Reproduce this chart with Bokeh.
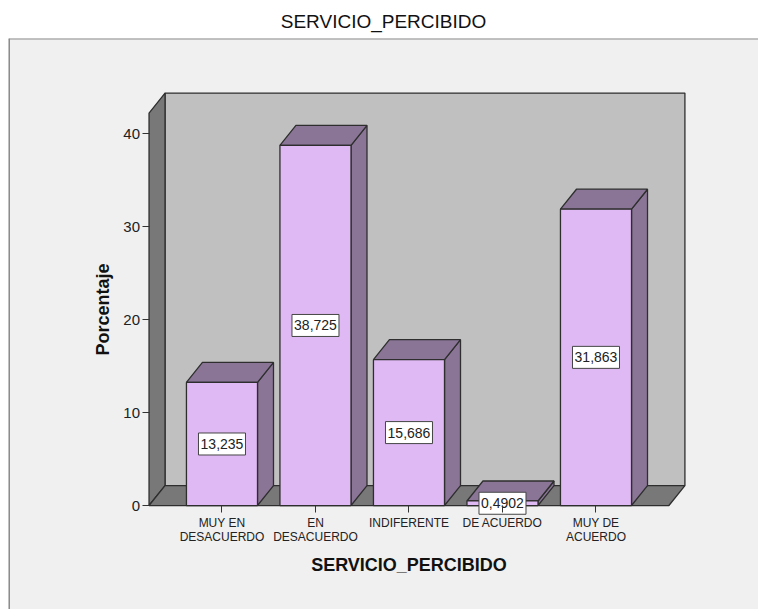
from bokeh.plotting import figure
from bokeh.models import (LinearAxis, FixedTicker, Range1d,
                          ColumnDataSource, Span)
from bokeh.core.properties import value
from bokeh.embed import file_html
from bokeh.resources import INLINE

# --- data -------------------------------------------------------------
categories = ["MUY EN\nDESACUERDO", "EN\nDESACUERDO", "INDIFERENTE",
              "DE ACUERDO", "MUY DE\nACUERDO"]
porcentaje = [13.235, 38.725, 15.686, 0.4902, 31.863]
y_ticks = [0, 10, 20, 30, 40]

# --- 3D box geometry (data units) -------------------------------------
X_LEFT, X_RIGHT = -0.78, 4.78      # front edge of floor
Y_TOP = 42.2                       # top of the side wall (front)
DX, DY = 0.171, 2.15               # depth offset
BAR_W = 0.76

FONT = "Liberation Sans"
FRONT = "#DFB9F3"
SHADE = "#8A7597"
WALL_BACK = "#C0C0C0"
WALL_SIDE = "#787878"
EDGE = "#2E2E2E"

p = figure(width=758, height=609, output_backend="svg", toolbar_location=None,
           x_range=Range1d(-2.283, 5.738), y_range=Range1d(-11.18, 50.22),
           x_axis_location=None, y_axis_location=None,
           min_border_left=8, min_border_right=0, min_border_top=38,
           min_border_bottom=0,
           background_fill_color="#F0F0F0", border_fill_color="white",
           outline_line_color=None)
p.grid.visible = False

p.title.text = "SERVICIO_PERCIBIDO"
p.title.align = "center"
p.title.text_font = FONT
p.title.text_font_size = "19px"
p.title.text_font_style = "normal"
p.title.text_color = "#111111"
p.title.offset = 8
p.title.standoff = 14

# frame edges of the chart box
p.add_layout(Span(location=p.y_range.end, dimension="width",
                  line_color="#8C8C8C", line_width=2))
p.add_layout(Span(location=p.x_range.start, dimension="height",
                  line_color="#8C8C8C", line_width=3))

# back wall, side wall and floor
p.quad(left=X_LEFT + DX, right=X_RIGHT + DX, bottom=DY, top=Y_TOP + DY,
       fill_color=WALL_BACK, line_color=EDGE, line_width=1.3)
p.patch([X_LEFT, X_LEFT, X_LEFT + DX, X_LEFT + DX],
        [0, Y_TOP, Y_TOP + DY, DY],
        fill_color=WALL_SIDE, line_color=EDGE, line_width=1.3)
p.patch([X_LEFT, X_RIGHT, X_RIGHT + DX, X_LEFT + DX],
        [0, 0, DY, DY],
        fill_color=WALL_SIDE, line_color=EDGE, line_width=1.3)

# bars: front face, right side and top
xs = list(range(len(porcentaje)))
lefts = [x - BAR_W / 2 for x in xs]
rights = [x + BAR_W / 2 for x in xs]

side_xs = [[r, r + DX, r + DX, r] for r in rights]
side_ys = [[0, DY, v + DY, v] for v in porcentaje]
top_xs = [[l, l + DX, r + DX, r] for l, r in zip(lefts, rights)]
top_ys = [[v, v + DY, v + DY, v] for v in porcentaje]

p.patches(side_xs, side_ys, fill_color=SHADE, line_color=EDGE, line_width=1.3)
p.patches(top_xs, top_ys, fill_color=SHADE, line_color=EDGE, line_width=1.3)
p.quad(left=lefts, right=rights, bottom=0, top=porcentaje,
       fill_color=FRONT, line_color=EDGE, line_width=1.3)

# value labels in the middle of each front face
src = ColumnDataSource(dict(
    x=xs,
    y=[v / 2 for v in porcentaje],
    text=[f"{v:.5g}".replace(".", ",") for v in porcentaje],
))
p.rect(x="x", y="y", width=47, height=22, width_units="screen",
       height_units="screen", source=src, fill_color="white",
       line_color="#444444", line_width=1)
p.text(x="x", y="y", text="text", source=src, text_align="center",
       text_baseline="middle", text_font=value(FONT),
       text_font_size="14px", text_color="#222222")

# axes
yaxis = LinearAxis(fixed_location=X_LEFT, bounds=(0, Y_TOP),
                   ticker=FixedTicker(ticks=y_ticks),
                   axis_label="Porcentaje",
                   axis_label_text_font=FONT,
                   axis_label_text_font_size="18px",
                   axis_label_text_font_style="bold",
                   axis_label_text_color="#111111",
                   axis_label_standoff=8,
                   axis_line_color=None,
                   major_tick_in=0, major_tick_out=7,
                   major_tick_line_color="#333333",
                   minor_tick_line_color=None,
                   major_label_text_font=FONT,
                   major_label_text_font_size="15px",
                   major_label_text_color="#222222",
                   major_label_standoff=2)
p.add_layout(yaxis, "left")

xaxis = LinearAxis(fixed_location=0, bounds=(X_LEFT, X_RIGHT),
                   ticker=FixedTicker(ticks=xs),
                   major_label_overrides={i: c for i, c in enumerate(categories)},
                   axis_label="SERVICIO_PERCIBIDO",
                   axis_label_text_font=FONT,
                   axis_label_text_font_size="18px",
                   axis_label_text_font_style="bold",
                   axis_label_text_color="#111111",
                   axis_label_standoff=8,
                   axis_line_color=None,
                   major_tick_in=0, major_tick_out=7,
                   major_tick_line_color="#333333",
                   minor_tick_line_color=None,
                   major_label_text_font=FONT,
                   major_label_text_font_size="12px",
                   major_label_text_line_height=1.0,
                   major_label_text_color="#222222",
                   major_label_standoff=3)
p.add_layout(xaxis, "below")

open("out.html", "w").write(file_html(p, INLINE))
